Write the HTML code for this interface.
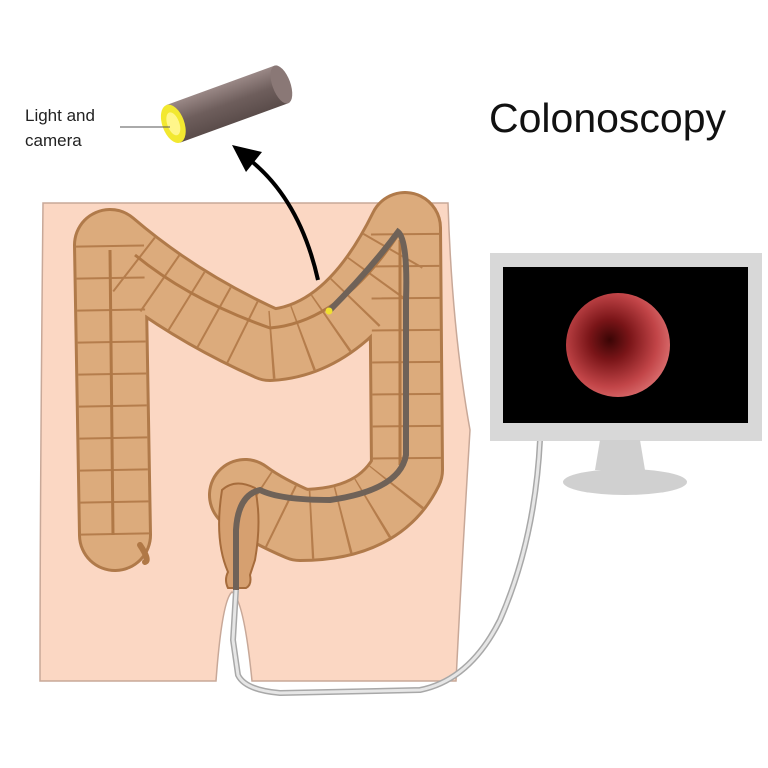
<!DOCTYPE html>
<html><head><meta charset="utf-8"><style>
html,body{margin:0;padding:0;background:#fff;}
svg{display:block;}
</style></head><body>
<svg width="768" height="768" viewBox="0 0 768 768" xmlns="http://www.w3.org/2000/svg">
<defs>
<radialGradient id="red" cx="0.42" cy="0.45" r="0.65">
<stop offset="0" stop-color="#3a0505"/><stop offset="0.3" stop-color="#7a1518"/><stop offset="0.7" stop-color="#c24548"/><stop offset="1" stop-color="#e07878"/></radialGradient>
<linearGradient id="cyl" x1="0" y1="0" x2="0" y2="1"><stop offset="0" stop-color="#9a8886"/><stop offset="0.5" stop-color="#6e5e5c"/><stop offset="1" stop-color="#5a4c4a"/></linearGradient>
</defs>
<path d="M43 203 L448 203 Q452 330 470 430 Q462 560 456 681 L252 681 Q244 600 232 592 Q222 600 216 681 L40 681 Q40 500 43 203 Z" fill="#fbd7c3" stroke="#c8a898" stroke-width="1.5"/>
<g fill="none" stroke-linejoin="round">
<path d="M115 535 L110 245 Q180 305 270 345 Q350 340 405 228 L407 470 Q380 525 300 525 Q265 510 245 495" stroke="#b07a4a" stroke-width="74" stroke-linecap="round"/>
<path d="M115 535 L110 245 Q180 305 270 345 Q350 340 405 228 L407 470 Q380 525 300 525 Q265 510 245 495" stroke="#dcab7c" stroke-width="68" stroke-linecap="round"/>
<path d="M115 535 L110 245 Q180 305 270 345 Q350 340 405 228 L407 470 Q380 525 300 525 Q265 510 245 495" stroke="#b57d4c" stroke-width="68" stroke-dasharray="2 30" stroke-linecap="butt"/>
<path d="M113 535 L110 250 M135 255 Q190 300 270 328 Q340 322 398 235 M400 240 L400 465" stroke="#b07846" stroke-width="3"/>
<path d="M140 545 Q150 560 145 562" stroke="#b07846" stroke-width="6" stroke-linecap="round"/>
</g>
<path d="M222 490 Q235 478 255 488 Q262 520 255 560 L250 575 Q252 585 246 588 L228 588 Q224 580 228 572 Q214 540 222 490 Z" fill="#d6a070" stroke="#a66c3c" stroke-width="2"/>
<path d="M328 312 Q370 270 398 232 Q408 240 406 300 L406 455 Q400 490 330 500 Q280 500 260 490 Q238 495 236 530 L236 590" fill="none" stroke="#6f6258" stroke-width="6"/>
<circle cx="329" cy="311" r="3.5" fill="#f0e030"/>
<path d="M236 590 L233 640 L238 675 Q245 690 280 693 L420 690 Q470 680 500 620 Q535 540 540 440" fill="none" stroke="#a8a8a8" stroke-width="6"/>
<path d="M236 590 L233 640 L238 675 Q245 690 280 693 L420 690 Q470 680 500 620 Q535 540 540 440" fill="none" stroke="#e6e6e6" stroke-width="3"/>
<rect x="490" y="253" width="272" height="188" fill="#d8d8d8"/>
<rect x="503" y="267" width="245" height="156" fill="#000"/>
<circle cx="618" cy="345" r="52" fill="url(#red)"/>
<path d="M600 440 L640 440 L645 470 L595 470 Z" fill="#d0d0d0"/>
<ellipse cx="625" cy="482" rx="62" ry="13" fill="#d0d0d0"/>
<path d="M318 280 Q300 200 250 160" fill="none" stroke="#000" stroke-width="4"/>
<path d="M232 145 L262 152 L246 172 Z" fill="#000"/>
<g transform="rotate(-20 225 105)">
<rect x="170" y="85" width="115" height="40" fill="url(#cyl)"/>
<ellipse cx="285" cy="105" rx="9" ry="20" fill="#8a7876"/>
<ellipse cx="170" cy="105" rx="11" ry="20" fill="#f2e830"/>
<ellipse cx="170" cy="105" rx="6" ry="12" fill="#fff68a"/>
</g>
<line x1="120" y1="127" x2="170" y2="127" stroke="#555" stroke-width="1"/>
<text x="25" y="121" font-family="Liberation Sans, sans-serif" font-size="17" fill="#222">Light and</text>
<text x="25" y="146" font-family="Liberation Sans, sans-serif" font-size="17" fill="#222">camera</text>
<text x="489" y="132" font-family="Liberation Sans, sans-serif" font-size="41" fill="#111">Colonoscopy</text>
</svg>
</body></html>
